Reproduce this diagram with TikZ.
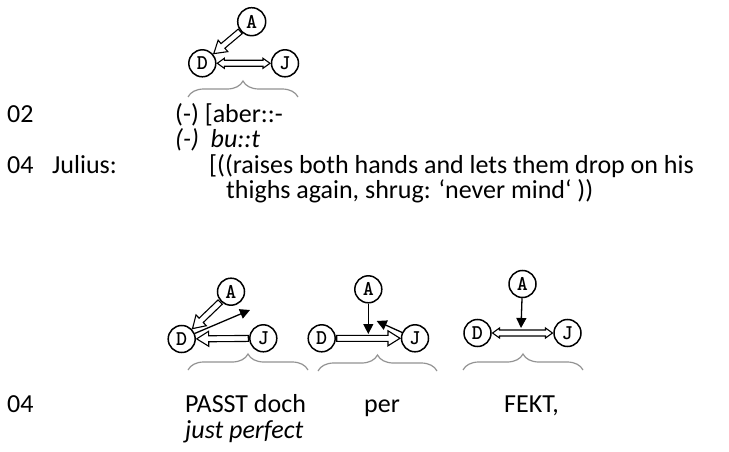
\documentclass[tikz,border=0pt]{standalone}
\usepackage{fontspec}
\setmainfont{Carlito}
\usetikzlibrary{calc,decorations.pathreplacing,arrows.meta}
\tikzset{
 person/.style={circle,draw,line width=1.5pt,minimum size=27pt,inner sep=0pt,font=\fontsize{21}{21}\selectfont\ttfamily\bfseries},
 fat/.style={draw,line width=1.1pt,fill=white,line join=miter},
 thinarr/.style={line width=1.3pt,-{Triangle[length=10pt,width=10pt]}},
 curly/.style={draw=gray!85,line width=1.2pt,decorate,decoration={brace,amplitude=16pt}},
 txt/.style={anchor=base west,inner sep=0pt,font=\fontsize{26}{26}\selectfont},
}
\newcommand{\fatarrow}[2]{%
 \coordinate (fa-s) at ($(#1)!15pt!(#2)$);
 \coordinate (fa-e) at ($(#2)!15pt!(#1)$);
 \coordinate (fa-b) at ($(fa-e)!12pt!(fa-s)$);
 \draw[fat] ($(fa-s)!3pt!90:(fa-e)$) -- ($(fa-b)!3pt!-90:(fa-s)$) -- ($(fa-b)!7.5pt!-90:(fa-s)$) -- (fa-e) -- ($(fa-b)!7.5pt!90:(fa-s)$) -- ($(fa-b)!3pt!90:(fa-s)$) -- ($(fa-s)!3pt!-90:(fa-e)$) -- cycle;}
\newcommand{\dfatarrow}[2]{%
 \coordinate (fa-s) at ($(#1)!15pt!(#2)$);
 \coordinate (fa-e) at ($(#2)!15pt!(#1)$);
 \coordinate (fa-b) at ($(fa-e)!7pt!(fa-s)$);
 \coordinate (fa-c) at ($(fa-s)!7pt!(fa-e)$);
 \draw[fat] (fa-s) -- ($(fa-c)!5pt!90:(fa-e)$) -- ($(fa-c)!3pt!90:(fa-e)$) -- ($(fa-b)!3pt!-90:(fa-s)$) -- ($(fa-b)!5pt!-90:(fa-s)$) -- (fa-e) -- ($(fa-b)!5pt!90:(fa-s)$) -- ($(fa-b)!3pt!90:(fa-s)$) -- ($(fa-c)!3pt!-90:(fa-e)$) -- ($(fa-c)!5pt!-90:(fa-e)$) -- cycle;}
\begin{document}
\begin{tikzpicture}[x=1pt,y=-1pt]
\useasboundingbox[fill=white] (0,0) rectangle (729,452);
% top diagram
\node[person,minimum size=28pt] (A0) at (251.7,21.7) {A};
\node[person] (D0) at (202.3,63.3) {D};
\node[person] (J0) at (285,63.3) {J};
\fatarrow{A0}{D0}
\dfatarrow{D0}{J0}
\draw[curly] (188,97) -- (298,97);
% text lines
\node[txt] (l02) at (7,122) {02};
\node[txt] (l02t) at (175,122) {(-) [aber::-};
\node[txt] (l03t) at (175,147) {\itshape (-)\ \ bu::t};
\node[txt] (l04) at (7,173) {04};
\node[txt] (l04s) at (52,173) {Julius:};
\node[txt] (l04t) at (209,173) {[((raises both hands and lets them drop on his};
\node[txt] (l05t) at (226,198) {thighs again, shrug: ‘never mind‘ ))};
% bottom diagram 1
\node[person] (A1) at (231,291.7) {A};
\node[person] (D1) at (181.7,339) {D};
\node[person] (J1) at (263.3,338.3) {J};
\coordinate (e1) at (250,310);
\fatarrow{A1}{D1}
\fatarrow{J1}{D1}
\draw[thinarr] (D1) -- (e1);
\draw[curly] (188,370) -- (308,370);
% bottom diagram 2
\node[person] (A2) at (368.3,289.3) {A};
\node[person] (D2) at (321.7,338.3) {D};
\node[person] (J2) at (415,338.3) {J};
\coordinate (t2) at (368.3,334);
\coordinate (e2) at (376.7,321);
\fatarrow{D2}{J2}
\draw[thinarr] (A2) -- (t2);
\draw[thinarr] (J2) -- (e2);
\draw[curly] (318,371) -- (437,371);
% bottom diagram 3
\node[person] (A3) at (522.5,284) {A};
\node[person] (D3) at (477.5,333) {D};
\node[person] (J3) at (567.5,333) {J};
\coordinate (t3) at (521,328);
\dfatarrow{D3}{J3}
\draw[thinarr] (A3) -- (t3);
\draw[curly] (463,370) -- (583,370);
% bottom text
\node[txt] (b04) at (7,412) {04};
\node[txt] (w1) at (185,412) {PASST doch};
\node[txt] (w1g) at (185,438) {\itshape just perfect};
\node[txt] (w2) at (364,412) {per};
\node[txt] (w3) at (504,412) {FEKT,};
\end{tikzpicture}
\end{document}
